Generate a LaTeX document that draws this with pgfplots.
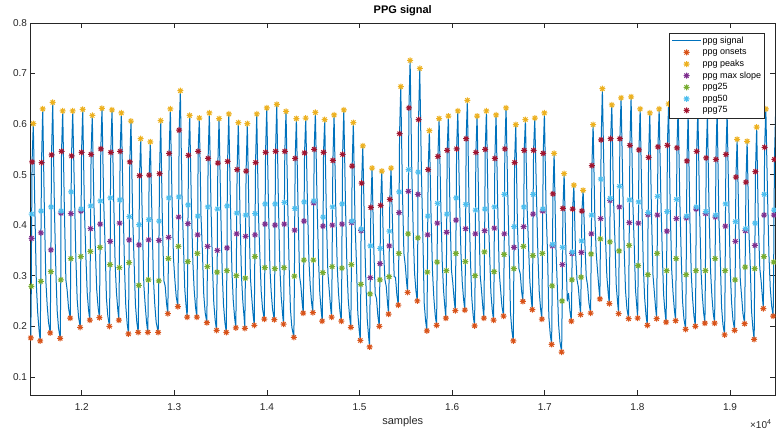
\documentclass[border=0pt]{standalone}
\usepackage{fontspec}
\setmainfont{Liberation Sans}
\usepackage{pgfplots}
\usepackage{pgfplotstable}
\pgfplotsset{compat=1.18}
\definecolor{c1}{rgb}{0,0.447,0.741}
\definecolor{c2}{rgb}{0.85,0.325,0.098}
\definecolor{c3}{rgb}{0.929,0.694,0.125}
\definecolor{c4}{rgb}{0.494,0.184,0.556}
\definecolor{c5}{rgb}{0.466,0.674,0.188}
\definecolor{c6}{rgb}{0.301,0.745,0.933}
\definecolor{c7}{rgb}{0.635,0.078,0.184}
\definecolor{axc}{rgb}{0.15,0.15,0.15}
\pgfdeclareplotmark{mstar}{%
 \pgfpathmoveto{\pgfqpoint{-\pgfplotmarksize}{0pt}}\pgfpathlineto{\pgfqpoint{\pgfplotmarksize}{0pt}}%
 \pgfpathmoveto{\pgfqpoint{0pt}{-\pgfplotmarksize}}\pgfpathlineto{\pgfqpoint{0pt}{\pgfplotmarksize}}%
 \pgfpathmoveto{\pgfqpoint{-.707\pgfplotmarksize}{-.707\pgfplotmarksize}}\pgfpathlineto{\pgfqpoint{.707\pgfplotmarksize}{.707\pgfplotmarksize}}%
 \pgfpathmoveto{\pgfqpoint{-.707\pgfplotmarksize}{.707\pgfplotmarksize}}\pgfpathlineto{\pgfqpoint{.707\pgfplotmarksize}{-.707\pgfplotmarksize}}%
 \pgfusepathqstroke}
\pgfplotsset{pick/.style={x filter/.code={\ifnum\numexpr\coordindex-10*((\coordindex+5)/10-1)\relax=#1\relax\else\let\pgfmathresult\empty\fi}},
 mk/.style={only marks, mark=mstar, mark size=3pt, line width=1pt, color=#1,
  legend image code/.code={\draw[mark repeat=2,mark phase=2,##1] plot coordinates {(0pt,0pt)(14.5pt,0pt)(29pt,0pt)};}},
 sigline/.style={c1, line width=1pt, line join=round,
  legend image code/.code={\draw[##1] (0pt,0pt) -- (29pt,0pt);}}}
% per beat: P = peak sample, d = offset from peak, y = value
% rows: onset, ppg25, max slope, ppg50, ppg75, peak, then points of the descent
\pgfplotstableread{
P d y
11477 -27 0.177
11477 -21 0.279
11477 -19 0.374
11477 -17 0.422
11477 -13 0.525
11477 0 0.601
11477 18 0.422
11477 34 0.279
11477 48 0.226
11477 63 0.191
11579 -27 0.171
11579 -21 0.289
11579 -19 0.385
11579 -17 0.428
11579 -13 0.524
11579 0 0.630
11579 18 0.428
11579 34 0.289
11579 48 0.242
11579 63 0.207
11687 -27 0.187
11687 -21 0.308
11687 -19 0.351
11687 -17 0.436
11687 -13 0.539
11687 0 0.643
11687 18 0.436
11687 34 0.308
11687 48 0.231
11687 63 0.196
11795 -27 0.176
11795 -21 0.292
11795 -19 0.424
11795 -17 0.428
11795 -13 0.546
11795 0 0.626
11795 18 0.428
11795 34 0.292
11795 48 0.271
11795 63 0.236
11903 -27 0.216
11903 -21 0.334
11903 -19 0.423
11903 -17 0.466
11903 -13 0.537
11903 0 0.626
11903 18 0.466
11903 34 0.334
11903 48 0.253
11903 63 0.218
12011 -27 0.198
12011 -21 0.338
12011 -19 0.428
12011 -17 0.432
12011 -13 0.544
12011 0 0.629
12011 18 0.432
12011 34 0.338
12011 48 0.267
12011 63 0.232
12114 -27 0.212
12114 -21 0.348
12114 -19 0.393
12114 -17 0.438
12114 -13 0.540
12114 0 0.617
12114 18 0.438
12114 34 0.348
12114 48 0.272
12114 63 0.237
12219 -27 0.217
12219 -21 0.356
12219 -19 0.402
12219 -17 0.448
12219 -13 0.551
12219 0 0.631
12219 18 0.448
12219 34 0.356
12219 48 0.255
12219 63 0.220
12327 -27 0.200
12327 -21 0.322
12327 -19 0.368
12327 -17 0.454
12327 -13 0.544
12327 0 0.628
12327 18 0.454
12327 34 0.322
12327 48 0.267
12327 63 0.232
12428 -27 0.212
12428 -21 0.316
12428 -19 0.404
12428 -17 0.450
12428 -13 0.546
12428 0 0.622
12428 18 0.450
12428 34 0.316
12428 48 0.240
12428 63 0.205
12532 -27 0.185
12532 -21 0.326
12532 -19 0.371
12532 -17 0.417
12532 -13 0.525
12532 0 0.606
12532 18 0.417
12532 34 0.326
12532 48 0.243
12532 63 0.208
12637 -27 0.188
12637 -21 0.281
12637 -19 0.361
12637 -17 0.401
12637 -13 0.498
12637 0 0.571
12637 18 0.401
12637 34 0.281
12637 48 0.243
12637 63 0.208
12741 -27 0.188
12741 -21 0.292
12741 -19 0.371
12741 -17 0.411
12741 -13 0.499
12741 0 0.565
12741 18 0.411
12741 34 0.292
12741 48 0.243
12741 63 0.208
12853 -27 0.188
12853 -21 0.290
12853 -19 0.370
12853 -17 0.408
12853 -13 0.502
12853 0 0.607
12853 18 0.408
12853 34 0.290
12853 48 0.280
12853 63 0.245
12957 -27 0.225
12957 -21 0.334
12957 -19 0.376
12957 -17 0.454
12957 -13 0.542
12957 0 0.630
12957 18 0.454
12957 34 0.334
12957 48 0.294
12957 63 0.259
13065 -27 0.239
13065 -21 0.358
13065 -19 0.416
13065 -17 0.456
13065 -13 0.588
13065 0 0.666
13065 18 0.456
13065 34 0.358
13065 48 0.273
13065 63 0.238
13166 -27 0.218
13166 -21 0.328
13166 -19 0.403
13166 -17 0.440
13166 -13 0.538
13166 0 0.617
13166 18 0.440
13166 34 0.328
13166 48 0.273
13166 63 0.238
13270 -27 0.218
13270 -21 0.344
13270 -19 0.381
13270 -17 0.418
13270 -13 0.546
13270 0 0.612
13270 18 0.418
13270 34 0.344
13270 48 0.262
13270 63 0.227
13378 -27 0.207
13378 -21 0.318
13378 -19 0.358
13378 -17 0.436
13378 -13 0.532
13378 0 0.622
13378 18 0.436
13378 34 0.318
13378 48 0.247
13378 63 0.212
13483 -27 0.192
13483 -21 0.307
13483 -19 0.350
13483 -17 0.432
13483 -13 0.523
13483 0 0.611
13483 18 0.432
13483 34 0.307
13483 48 0.243
13483 63 0.208
13588 -27 0.188
13588 -21 0.310
13588 -19 0.355
13588 -17 0.438
13588 -13 0.526
13588 0 0.620
13588 18 0.438
13588 34 0.310
13588 48 0.252
13588 63 0.217
13691 -27 0.197
13691 -21 0.300
13691 -19 0.383
13691 -17 0.424
13691 -13 0.510
13691 0 0.603
13691 18 0.424
13691 34 0.300
13691 48 0.251
13691 63 0.216
13788 -27 0.196
13788 -21 0.295
13788 -19 0.378
13788 -17 0.420
13788 -13 0.507
13788 0 0.601
13788 18 0.420
13788 34 0.295
13788 48 0.257
13788 63 0.222
13890 -27 0.202
13890 -21 0.338
13890 -19 0.381
13890 -17 0.423
13890 -13 0.524
13890 0 0.620
13890 18 0.423
13890 34 0.338
13890 48 0.269
13890 63 0.234
13998 -27 0.214
13998 -21 0.316
13998 -19 0.402
13998 -17 0.442
13998 -13 0.544
13998 0 0.632
13998 18 0.442
13998 34 0.316
13998 48 0.268
13998 63 0.233
14106 -27 0.213
14106 -21 0.314
14106 -19 0.400
14106 -17 0.442
14106 -13 0.546
14106 0 0.639
14106 18 0.442
14106 34 0.314
14106 48 0.259
14106 63 0.224
14206 -27 0.204
14206 -21 0.316
14206 -19 0.402
14206 -17 0.445
14206 -13 0.546
14206 0 0.625
14206 18 0.445
14206 34 0.316
14206 48 0.233
14206 63 0.198
14318 -27 0.178
14318 -21 0.299
14318 -19 0.390
14318 -17 0.433
14318 -13 0.532
14318 0 0.611
14318 18 0.433
14318 34 0.299
14318 48 0.281
14318 63 0.246
14419 -27 0.226
14419 -21 0.331
14419 -19 0.408
14419 -17 0.446
14419 -13 0.543
14419 0 0.612
14419 18 0.446
14419 34 0.331
14419 48 0.282
14419 63 0.247
14523 -27 0.227
14523 -21 0.331
14523 -19 0.444
14523 -17 0.448
14523 -13 0.550
14523 0 0.623
14523 18 0.448
14523 34 0.331
14523 48 0.265
14523 63 0.230
14624 -27 0.210
14624 -21 0.306
14624 -19 0.398
14624 -17 0.416
14624 -13 0.544
14624 0 0.609
14624 18 0.416
14624 34 0.306
14624 48 0.273
14624 63 0.238
14725 -27 0.218
14725 -21 0.318
14725 -19 0.400
14725 -17 0.436
14725 -13 0.528
14725 0 0.618
14725 18 0.436
14725 34 0.318
14725 48 0.265
14725 63 0.230
14830 -27 0.210
14830 -21 0.315
14830 -19 0.402
14830 -17 0.442
14830 -13 0.540
14830 0 0.628
14830 18 0.442
14830 34 0.315
14830 48 0.253
14830 63 0.218
14933 -27 0.198
14933 -21 0.322
14933 -19 0.405
14933 -17 0.408
14933 -13 0.517
14933 0 0.603
14933 18 0.408
14933 34 0.322
14933 48 0.227
14933 63 0.192
15035 -27 0.172
15035 -21 0.283
15035 -19 0.389
15035 -17 0.392
15035 -13 0.483
15035 0 0.557
15035 18 0.392
15035 34 0.283
15035 48 0.214
15035 63 0.179
15135 -27 0.159
15135 -21 0.264
15135 -19 0.296
15135 -17 0.359
15135 -13 0.435
15135 0 0.513
15135 18 0.359
15135 34 0.264
15135 48 0.255
15135 63 0.220
15240 -27 0.200
15240 -21 0.292
15240 -19 0.324
15240 -17 0.354
15240 -13 0.439
15240 0 0.507
15240 18 0.354
15240 34 0.292
15240 48 0.279
15240 63 0.244
15340 -27 0.224
15340 -21 0.298
15340 -19 0.359
15340 -17 0.388
15340 -13 0.451
15340 0 0.513
15340 18 0.388
15340 34 0.298
15340 48 0.297
15340 63 0.262
15445 -27 0.242
15445 -21 0.344
15445 -19 0.425
15445 -17 0.466
15445 -13 0.581
15445 0 0.674
15445 18 0.466
15445 34 0.344
15445 48 0.322
15445 63 0.287
15546 -27 0.267
15546 -21 0.383
15546 -19 0.467
15546 -17 0.510
15546 -13 0.632
15546 0 0.726
15546 18 0.510
15546 34 0.383
15546 48 0.305
15546 63 0.270
15650 -27 0.250
15650 -21 0.375
15650 -19 0.461
15650 -17 0.505
15650 -13 0.609
15650 0 0.710
15650 18 0.505
15650 34 0.375
15650 48 0.246
15650 63 0.211
15754 -27 0.191
15754 -21 0.307
15754 -19 0.381
15754 -17 0.418
15754 -13 0.510
15754 0 0.587
15754 18 0.418
15754 34 0.307
15754 48 0.257
15754 63 0.222
15859 -27 0.202
15859 -21 0.327
15859 -19 0.404
15859 -17 0.443
15859 -13 0.536
15859 0 0.611
15859 18 0.443
15859 34 0.327
15859 48 0.271
15859 63 0.236
15959 -27 0.216
15959 -21 0.310
15959 -19 0.386
15959 -17 0.422
15959 -13 0.548
15959 0 0.616
15959 18 0.422
15959 34 0.310
15959 48 0.286
15959 63 0.251
16061 -27 0.231
16061 -21 0.344
16061 -19 0.410
16061 -17 0.454
16061 -13 0.551
16061 0 0.626
16061 18 0.454
16061 34 0.344
16061 48 0.287
16061 63 0.252
16164 -27 0.232
16164 -21 0.328
16164 -19 0.393
16164 -17 0.441
16164 -13 0.571
16164 0 0.647
16164 18 0.441
16164 34 0.328
16164 48 0.256
16164 63 0.221
16269 -27 0.201
16269 -21 0.300
16269 -19 0.383
16269 -17 0.430
16269 -13 0.544
16269 0 0.616
16269 18 0.430
16269 34 0.300
16269 48 0.271
16269 63 0.236
16370 -27 0.216
16370 -21 0.347
16370 -19 0.389
16370 -17 0.432
16370 -13 0.550
16370 0 0.626
16370 18 0.432
16370 34 0.347
16370 48 0.267
16370 63 0.232
16474 -27 0.212
16474 -21 0.308
16474 -19 0.394
16474 -17 0.436
16474 -13 0.532
16474 0 0.618
16474 18 0.436
16474 34 0.308
16474 48 0.275
16474 63 0.240
16582 -27 0.220
16582 -21 0.342
16582 -19 0.383
16582 -17 0.461
16582 -13 0.551
16582 0 0.632
16582 18 0.461
16582 34 0.342
16582 48 0.226
16582 63 0.191
16687 -27 0.171
16687 -21 0.314
16687 -19 0.356
16687 -17 0.397
16687 -13 0.524
16687 0 0.599
16687 18 0.397
16687 34 0.314
16687 48 0.304
16687 63 0.269
16791 -27 0.249
16791 -21 0.358
16791 -19 0.397
16791 -17 0.436
16791 -13 0.548
16791 0 0.609
16791 18 0.436
16791 34 0.358
16791 48 0.288
16791 63 0.253
16892 -27 0.233
16892 -21 0.340
16892 -19 0.422
16892 -17 0.461
16892 -13 0.548
16892 0 0.612
16892 18 0.461
16892 34 0.340
16892 48 0.269
16892 63 0.234
16996 -27 0.214
16996 -21 0.344
16996 -19 0.428
16996 -17 0.432
16996 -13 0.542
16996 0 0.622
16996 18 0.432
16996 34 0.344
16996 48 0.219
16996 63 0.184
17101 -27 0.164
17101 -21 0.280
17101 -19 0.359
17101 -17 0.362
17101 -13 0.462
17101 0 0.542
17101 18 0.362
17101 34 0.280
17101 48 0.204
17101 63 0.169
17209 -27 0.149
17209 -21 0.250
17209 -19 0.322
17209 -17 0.356
17209 -13 0.433
17209 0 0.502
17209 18 0.356
17209 34 0.250
17209 48 0.265
17209 63 0.230
17314 -27 0.210
17314 -21 0.292
17314 -19 0.344
17314 -17 0.347
17314 -13 0.432
17314 0 0.479
17314 18 0.347
17314 34 0.292
17314 48 0.278
17314 63 0.243
17414 -27 0.223
17414 -21 0.297
17414 -19 0.346
17414 -17 0.369
17414 -13 0.428
17414 0 0.469
17414 18 0.369
17414 34 0.297
17414 48 0.281
17414 63 0.246
17522 -27 0.226
17522 -21 0.343
17522 -19 0.383
17522 -17 0.420
17522 -13 0.518
17522 0 0.599
17522 18 0.420
17522 34 0.343
17522 48 0.309
17522 63 0.274
17622 -27 0.254
17622 -21 0.373
17622 -19 0.413
17622 -17 0.491
17622 -13 0.569
17622 0 0.670
17622 18 0.491
17622 34 0.373
17622 48 0.300
17622 63 0.265
17724 -27 0.245
17724 -21 0.367
17724 -19 0.449
17724 -17 0.453
17724 -13 0.571
17724 0 0.638
17724 18 0.453
17724 34 0.367
17724 48 0.280
17724 63 0.245
17824 -27 0.225
17824 -21 0.349
17824 -19 0.436
17824 -17 0.477
17824 -13 0.571
17824 0 0.652
17824 18 0.477
17824 34 0.349
17824 48 0.270
17824 63 0.235
17932 -27 0.215
17932 -21 0.360
17932 -19 0.405
17932 -17 0.450
17932 -13 0.558
17932 0 0.654
17932 18 0.450
17932 34 0.360
17932 48 0.271
17932 63 0.236
18030 -27 0.216
18030 -21 0.320
18030 -19 0.404
18030 -17 0.446
18030 -13 0.549
18030 0 0.630
18030 18 0.446
18030 34 0.320
18030 48 0.257
18030 63 0.222
18134 -27 0.202
18134 -21 0.302
18134 -19 0.421
18134 -17 0.425
18134 -13 0.534
18134 0 0.622
18134 18 0.425
18134 34 0.302
18134 48 0.270
18134 63 0.235
18235 -27 0.215
18235 -21 0.344
18235 -19 0.420
18235 -17 0.457
18235 -13 0.555
18235 0 0.630
18235 18 0.457
18235 34 0.344
18235 48 0.263
18235 63 0.228
18337 -27 0.208
18337 -21 0.310
18337 -19 0.388
18337 -17 0.427
18337 -13 0.558
18337 0 0.640
18337 18 0.427
18337 34 0.310
18337 48 0.266
18337 63 0.231
18440 -27 0.211
18440 -21 0.334
18440 -19 0.413
18440 -17 0.451
18440 -13 0.553
18440 0 0.635
18440 18 0.451
18440 34 0.334
18440 48 0.249
18440 63 0.214
18548 -27 0.194
18548 -21 0.302
18548 -19 0.414
18548 -17 0.418
18548 -13 0.527
18548 0 0.620
18548 18 0.418
18548 34 0.302
18548 48 0.255
18548 63 0.220
18653 -27 0.200
18653 -21 0.310
18653 -19 0.432
18653 -17 0.436
18653 -13 0.546
18653 0 0.630
18653 18 0.436
18653 34 0.310
18653 48 0.261
18653 63 0.226
18756 -27 0.206
18756 -21 0.310
18756 -19 0.423
18756 -17 0.427
18756 -13 0.533
18756 0 0.620
18756 18 0.427
18756 34 0.310
18756 48 0.261
18756 63 0.226
18861 -27 0.206
18861 -21 0.334
18861 -19 0.416
18861 -17 0.420
18861 -13 0.530
18861 0 0.632
18861 18 0.420
18861 34 0.334
18861 48 0.238
18861 63 0.203
18969 -27 0.183
18969 -21 0.310
18969 -19 0.398
18969 -17 0.442
18969 -13 0.540
18969 0 0.620
18969 18 0.442
18969 34 0.310
18969 48 0.247
18969 63 0.212
19077 -27 0.192
19077 -21 0.292
19077 -19 0.368
19077 -17 0.407
19077 -13 0.495
19077 0 0.570
19077 18 0.407
19077 34 0.292
19077 48 0.260
19077 63 0.225
19185 -27 0.205
19185 -21 0.317
19185 -19 0.389
19185 -17 0.393
19185 -13 0.485
19185 0 0.566
19185 18 0.393
19185 34 0.317
19185 48 0.229
19185 63 0.194
19288 -27 0.174
19288 -21 0.314
19288 -19 0.360
19288 -17 0.404
19288 -13 0.506
19288 0 0.594
19288 18 0.404
19288 34 0.314
19288 48 0.290
19288 63 0.255
19387 -27 0.235
19387 -21 0.338
19387 -19 0.420
19387 -17 0.461
19387 -13 0.554
19387 0 0.630
19387 18 0.461
19387 34 0.338
19387 48 0.275
19387 63 0.240
19493 -27 0.220
19493 -21 0.327
19493 -19 0.420
19493 -17 0.430
19493 -13 0.530
19493 0 0.628
}\sig
\begin{document}
\begin{tikzpicture}
\useasboundingbox (-30.5pt,-34pt) rectangle (745.5pt,395pt);
\begin{axis}[
 at={(0pt,0pt)}, anchor=south west,
 width=744.5pt, height=372pt, scale only axis,
 xmin=11447, xmax=19486, ymin=0.064, ymax=0.8,
 xtick={12000,13000,14000,15000,16000,17000,18000,19000},
 xticklabels={1.2,1.3,1.4,1.5,1.6,1.7,1.8,1.9},
 ytick={0.1,0.2,0.3,0.4,0.5,0.6,0.7,0.8},
 yticklabels={0.1,0.2,0.3,0.4,0.5,0.6,0.7,0.8},
 scaled x ticks=false,
 tick align=inside, major tick length=5pt,
 axis line style={axc, line width=0.6pt},
 tick style={axc, line width=0.6pt},
 tick label style={font=\fontsize{10}{12}\selectfont, text=axc},
 xticklabel style={anchor=base, yshift=-15.5pt},
 title={PPG signal},
 title style={at={(0.5,1)}, anchor=base, yshift=4pt, font=\bfseries\fontsize{11}{13}\selectfont, text=black},
 xlabel={samples},
 xlabel style={at={(axis description cs:0.5,0)}, anchor=base, yshift=-29.5pt, font=\fontsize{11}{13}\selectfont, text=axc},
 legend cell align=left,
 legend style={at={(0.9856,0.9723)}, anchor=north east, draw=axc, line width=0.5pt, fill=white,
  font=\fontsize{9}{11}\selectfont, inner xsep=2pt, inner ysep=1.5pt, row sep=0pt,
  nodes={inner xsep=1pt, inner ysep=1.5pt, text height=6.8pt, text depth=1.8pt},
  /tikz/every even column/.append style={column sep=1pt}},
]
\addplot[sigline] table[x expr=\thisrow{P}+\thisrow{d}, y=y] {\sig};
\addlegendentry{ppg signal}
\addplot[mk=c2, pick=0] table[x expr=\thisrow{P}+\thisrow{d}, y=y] {\sig};
\addlegendentry{ppg onsets}
\addplot[mk=c3, pick=5] table[x expr=\thisrow{P}+\thisrow{d}, y=y] {\sig};
\addlegendentry{ppg peaks}
\addplot[mk=c4, pick=2] table[x expr=\thisrow{P}+\thisrow{d}, y=y] {\sig};
\addlegendentry{ppg max slope}
\addplot[mk=c5, pick=1] table[x expr=\thisrow{P}+\thisrow{d}, y=y] {\sig};
\addlegendentry{ppg25}
\addplot[mk=c6, pick=3] table[x expr=\thisrow{P}+\thisrow{d}, y=y] {\sig};
\addlegendentry{ppg50}
\addplot[mk=c7, pick=4] table[x expr=\thisrow{P}+\thisrow{d}, y=y] {\sig};
\addlegendentry{ppg75}
\end{axis}
\node[anchor=base east, font=\fontsize{10}{12}\selectfont, text=axc] at (744pt,-33pt) {×10\raisebox{0.75ex}{\fontsize{7}{8}\selectfont 4}};
\end{tikzpicture}
\end{document}
